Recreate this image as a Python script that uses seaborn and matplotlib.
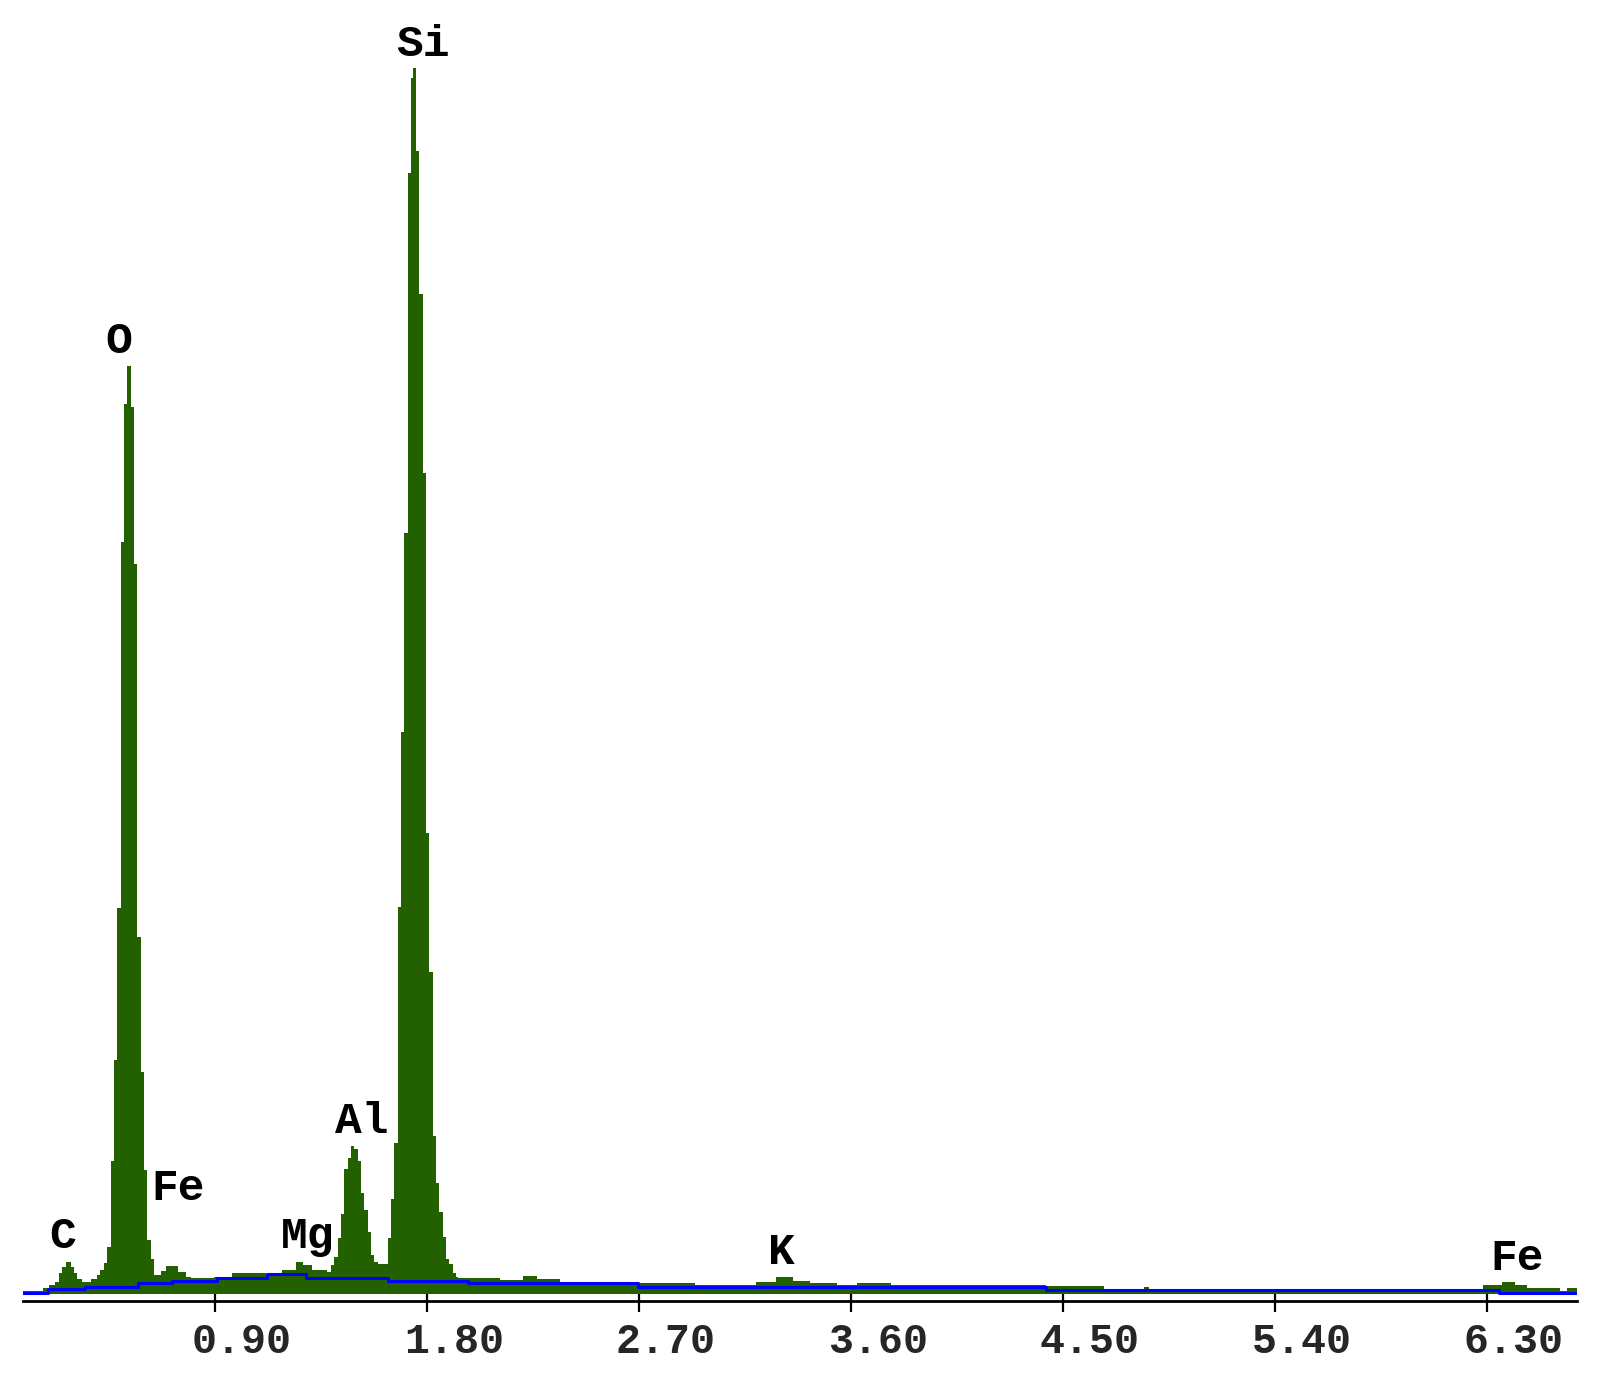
import numpy as np
import pandas as pd
import seaborn as sns
import matplotlib.pyplot as plt
from matplotlib.transforms import ScaledTranslation

# EDS spectrum: start energy (keV) of each step and its height (counts)
spec_energy = [0.084, 0.171, 0.197, 0.221, 0.238, 0.252, 0.266, 0.287, 0.301, 0.315,
               0.334, 0.372, 0.398, 0.412, 0.429, 0.443, 0.457, 0.471, 0.485, 0.500,
               0.514, 0.528, 0.542, 0.556, 0.570, 0.585, 0.599, 0.613, 0.627, 0.641,
               0.671, 0.692, 0.745, 0.776, 0.798, 0.896, 0.972, 1.117, 1.184, 1.244,
               1.276, 1.314, 1.375, 1.392, 1.406, 1.421, 1.435, 1.449, 1.463, 1.477,
               1.491, 1.506, 1.520, 1.534, 1.548, 1.562, 1.576, 1.591, 1.633, 1.647,
               1.661, 1.676, 1.690, 1.704, 1.718, 1.732, 1.742, 1.753, 1.767, 1.782,
               1.796, 1.810, 1.824, 1.838, 1.852, 1.867, 1.881, 1.895, 1.909, 1.923,
               1.930,
               2.110, 2.208, 2.269, 2.365, 2.694, 2.938, 3.197, 3.282, 3.354, 3.426,
               3.541, 3.626, 3.770, 4.430, 4.674, 4.844, 4.865, 6.282, 6.362, 6.419,
               6.471, 6.610, 6.638]
spec_counts = [3, 6, 9, 12, 21, 27, 32, 27, 21, 15,
               12, 15, 19, 24, 31, 47, 133, 234, 386, 752,
               890, 928, 887, 730, 357, 222, 124, 54, 35, 19,
               23, 28, 22, 17, 16, 17, 21, 20, 24, 32,
               29, 24, 22, 29, 37, 56, 80, 125, 136, 148,
               145, 133, 101, 84, 62, 39, 32, 30, 56, 95,
               151, 387, 562, 761, 1121, 1216, 1226, 1143, 1000, 821,
               461, 322, 158, 111, 82, 57, 35, 30, 21, 17,
               16,
               14, 18, 15, 11, 11, 9, 12, 17, 13, 11,
               9, 11, 9, 8, 4, 7, 4, 9, 12, 9,
               6, 3, 6]
spec_end = 6.682

# fitted background (blue step line)
bg_energy = [0.084, 0.192, 0.348, 0.574, 0.716, 0.907, 1.119, 1.286, 1.636, 1.975,
             2.694, 4.430, 6.351]
bg_counts = [1.3, 4.7, 7.3, 10.7, 13.3, 16.3, 19.5, 16.3, 13.0, 10.7,
             7.3, 4.0, 1.3]

# element labels
elements = ['C', 'O', 'Fe', 'Mg', 'Al', 'Si', 'K', 'Fe']
label_x = [0.253, 0.492, 0.743, 1.295, 1.524, 1.785, 3.305, 6.430]
label_y = [46, 941, 94, 46, 161, 1238, 30, 24]

ticks = [0.90, 1.80, 2.70, 3.60, 4.50, 5.40, 6.30]

GREEN = '#226000'

sns.set_style('white')
plt.rcParams['font.family'] = ['Liberation Mono', 'DejaVu Sans']

fig = plt.figure(figsize=(16.04, 13.93), dpi=100)
ax = fig.add_axes([0.01415, 0.06583, 0.969, 0.9198])

edges = spec_energy + [spec_end]
mids = [(a + b) / 2 for a, b in zip(edges[:-1], edges[1:])]
df = pd.DataFrame({'energy': mids, 'counts': spec_counts})
sns.histplot(data=df, x='energy', weights='counts', bins=edges, element='step',
             fill=True, color=GREEN, alpha=1, linewidth=0, ax=ax)

bg = pd.DataFrame({'energy': bg_energy + [spec_end], 'counts': bg_counts + [bg_counts[-1]]})
sns.lineplot(data=bg, x='energy', y='counts', drawstyle='steps-post', estimator=None,
             color='#0000ff', linewidth=2.2, ax=ax)

for name, x, y in zip(elements, label_x, label_y):
    ax.text(x, y, name, ha='center', va='baseline', fontsize=32, fontweight='bold',
            color='black')

ax.set_xlim(0.084, spec_end)
ax.set_ylim(-7.3, 1274)
ax.set_xticks(ticks)
ax.set_xticklabels([f'{t:.2f}' for t in ticks])
ax.set_yticks([])
ax.set_xlabel('')
ax.set_ylabel('')
for s in ['left', 'right', 'top']:
    ax.spines[s].set_visible(False)
ax.spines['bottom'].set_linewidth(2)
ax.spines['bottom'].set_color('black')
ax.tick_params(axis='x', direction='inout', length=16.5, width=1.6, color='black',
               labelsize=30, pad=7, bottom=True)
offset = ScaledTranslation(27 / 100, 0, fig.dpi_scale_trans)
for lab in ax.get_xticklabels():
    lab.set_fontweight('bold')
    lab.set_transform(lab.get_transform() + offset)

fig.savefig('out.png', dpi=100, facecolor='white')
